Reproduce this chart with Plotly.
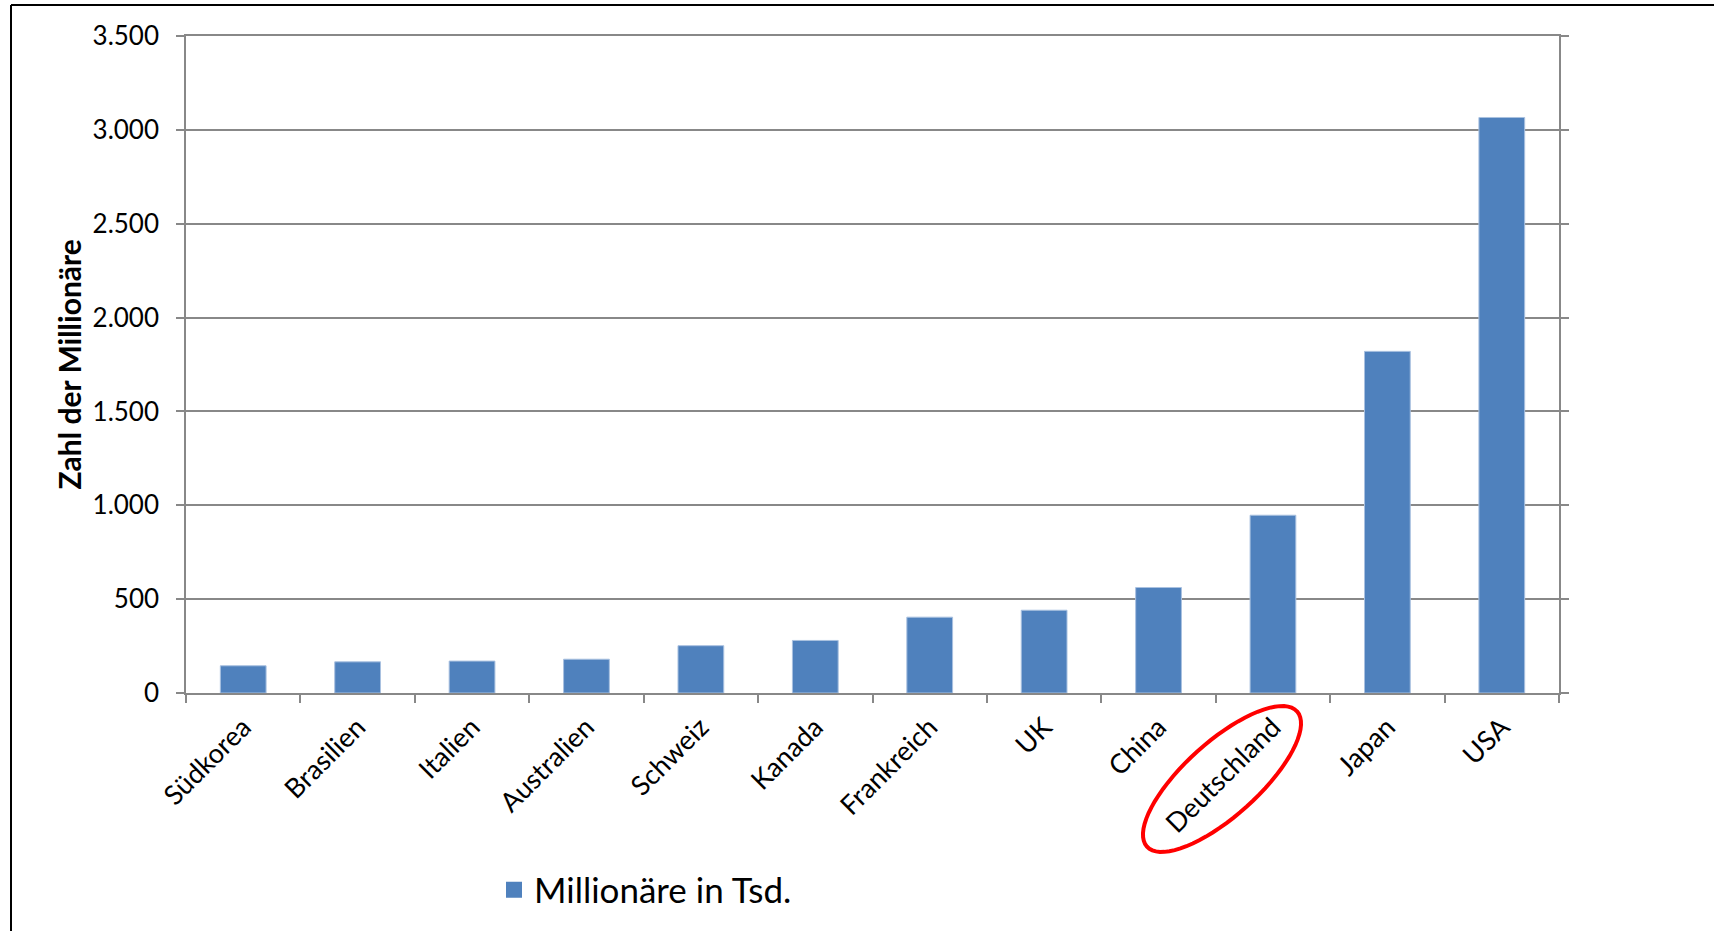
import numpy as np
import plotly.graph_objects as go

# Millionäre je Land (in Tausend)
laender = ['Südkorea', 'Brasilien', 'Italien', 'Australien', 'Schweiz', 'Kanada',
           'Frankreich', 'UK', 'China', 'Deutschland', 'Japan', 'USA']
millionaere = [145, 166, 170, 180, 252, 280, 404, 441, 562, 947, 1820, 3066]

y_ticks = [0, 500, 1000, 1500, 2000, 2500, 3000, 3500]

W, H = 1714, 931
ML, MR, MT, MB = 186, 155, 36, 238
PW, PH = W - ML - MR, H - MT - MB


def px(x):  # pixel -> paper
    return (x - ML) / PW


def py(y):
    return (H - MB - y) / PH


blau = '#4f81bd'
grey = '#888888'

fig = go.Figure()

fig.add_trace(go.Bar(
    x=laender, y=millionaere,
    name='Millionäre in Tsd.',
    marker=dict(color=blau, line=dict(color='#a9c1e0', width=1)),
    showlegend=False,
))
# nur fuer die Legende (groesseres Quadrat)
fig.add_trace(go.Scatter(
    x=[None], y=[None], mode='markers', name='Millionäre in Tsd.',
    marker=dict(symbol='square', size=20, color=blau),
))

fig.update_xaxes(
    showline=True, linecolor=grey, linewidth=1.5, mirror=True,
    ticks='outside', tickson='boundaries', ticklen=8, tickcolor=grey, tickwidth=1.5,
    tickangle=-45, tickfont=dict(family='Lato', size=27, color='black'),
    ticklabelstandoff=6, showgrid=False,
)
fig.update_yaxes(
    range=[0, 3500], tickvals=y_ticks, tickformat=',d',
    showline=True, linecolor=grey, linewidth=1.5, mirror='ticks',
    ticks='outside', ticklen=8, tickcolor=grey, tickwidth=1.5,
    showgrid=True, gridcolor=grey, gridwidth=1.5, zeroline=False,
    tickfont=dict(family='Lato', size=26, color='black'), ticklabelstandoff=12,
)

# rote Ellipse um "Deutschland"
cx, cy, a, b, ang = 1222, 779, 101, 37, np.deg2rad(42)
t = np.linspace(0, 2 * np.pi, 73)
ex = cx + a * np.cos(t) * np.cos(ang) - b * np.sin(t) * np.sin(ang)
ey = cy - (a * np.cos(t) * np.sin(ang) + b * np.sin(t) * np.cos(ang))
path = 'M' + ' L'.join(f'{px(u):.5f},{py(v):.5f}' for u, v in zip(ex, ey)) + ' Z'

shapes = [
    dict(type='path', path=path, xref='paper', yref='paper',
         line=dict(color='#ff0000', width=4)),
    # Rahmen oben / links
    dict(type='line', xref='paper', yref='paper', x0=px(11), x1=px(W), y0=py(5), y1=py(5),
         line=dict(color='black', width=2)),
    dict(type='line', xref='paper', yref='paper', x0=px(11), x1=px(11), y0=py(5), y1=py(H),
         line=dict(color='black', width=2)),
]

fig.update_layout(
    width=W, height=H,
    margin=dict(l=ML, r=MR, t=MT, b=MB),
    plot_bgcolor='white', paper_bgcolor='white',
    separators=',.',
    bargap=0.6,
    font=dict(family='Lato', color='black'),
    shapes=shapes,
    legend=dict(orientation='h', x=px(494), xanchor='left', y=py(890), yanchor='middle',
                font=dict(family='Lato', size=35, color='black'), bgcolor='rgba(0,0,0,0)'),
    annotations=[dict(text='<b>Zahl der Millionäre</b>', textangle=-90,
                      xref='paper', yref='paper', x=px(68), y=0.5,
                      xanchor='center', yanchor='middle', showarrow=False,
                      font=dict(family='Lato', size=30, color='black'))],
)

fig.write_html('out.html', config={'displayModeBar': False},
               post_script="document.body.style.margin='0';")
